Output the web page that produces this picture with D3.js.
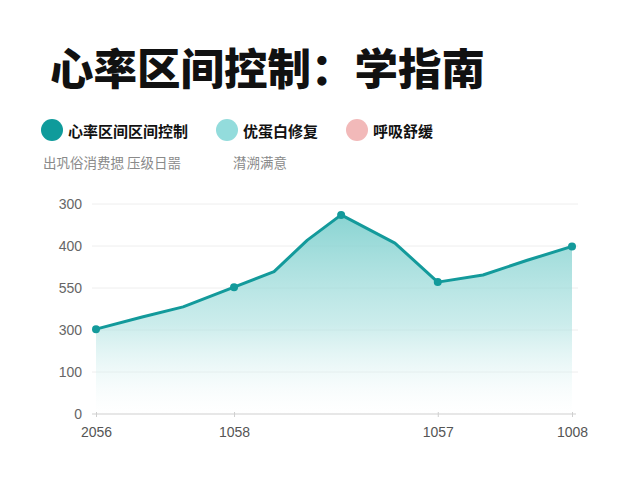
<!DOCTYPE html>
<html>
<head>
<meta charset="utf-8">
<script src="https://cdn.jsdelivr.net/npm/d3@7"></script>
<style>
  body { margin: 0; background: #fff; }
  svg { display: block; font-family: "Noto Sans CJK SC", "Noto Sans", sans-serif; }
</style>
</head>
<body>
<span></span>
<script>
let width = 640;
let height = 480;

// data
let xVals = [0, 9.7, 18.3, 29.0, 37.4, 44.4, 51.5, 62.8, 71.8, 81.3, 90.6, 100];
let yVals = [202, 231, 255, 302, 339, 414, 474, 407, 314, 331, 366, 399];
let markerIdx = [0, 3, 6, 8, 11];
let xTickIdx = [0, 3, 8, 11];
let xTickLabels = ["2056", "1058", "1057", "1008"];
let yTickVals = [0, 100, 200, 300, 400, 500];
let yTickLabels = ["0", "100", "300", "550", "400", "300"];
let legendNames = ["心率区间区间控制", "优蛋白修复", "呼吸舒缓"];
let legendColors = ["#0f9b9b", "#93dcdc", "#f2b9b9"];
let subNotes = ["出巩俗消费揌 压级日噐", "潸溯满意"];

let margin = { left: 96, right: 68, top: 204, bottom: 66 };

let svg = d3.select("span")
    .append("svg")
    .attr("width", width)
    .attr("height", height);

// title
svg.append("text")
    .attr("x", 50)
    .attr("y", 66)
    .attr("dominant-baseline", "central")
    .attr("font-size", 43.5)
    .attr("font-weight", 900)
    .attr("fill", "#111")
    .text("心率区间控制：学指南");

// legend
let legendX = [52, 227, 357];
legendNames.forEach(function (name, i) {
    svg.append("circle")
        .attr("cx", legendX[i])
        .attr("cy", 130)
        .attr("r", 11)
        .attr("fill", legendColors[i]);
    svg.append("text")
        .attr("x", legendX[i] + 16)
        .attr("y", 130)
        .attr("dominant-baseline", "central")
        .attr("font-size", 15)
        .attr("font-weight", 700)
        .attr("fill", "#111")
        .text(name);
});

let noteX = [43, 233];
subNotes.forEach(function (t, i) {
    svg.append("text")
        .attr("x", noteX[i])
        .attr("y", 162)
        .attr("dominant-baseline", "central")
        .attr("font-size", 13.5)
        .attr("fill", "#8a8a8a")
        .text(t);
});

let x = d3.scaleLinear().domain([0, 100]).range([margin.left, width - margin.right]);
let y = d3.scaleLinear().domain([0, 500]).range([height - margin.bottom, margin.top]);

// gridlines
svg.append("g")
    .selectAll("line")
    .data(yTickVals.slice(1))
    .join("line")
    .attr("x1", 92)
    .attr("x2", 578)
    .attr("y1", d => y(d))
    .attr("y2", d => y(d))
    .attr("stroke", "#eeeeee")
    .attr("stroke-width", 1);

// y labels
svg.append("g")
    .selectAll("text")
    .data(yTickVals)
    .join("text")
    .attr("x", 82)
    .attr("y", d => y(d))
    .attr("text-anchor", "end")
    .attr("dominant-baseline", "central")
    .attr("font-family", "Liberation Sans, Arial, sans-serif")
    .attr("font-size", 14)
    .attr("fill", "#666")
    .text((d, i) => yTickLabels[i]);

// gradient
let defs = svg.append("defs");
let grad = defs.append("linearGradient")
    .attr("id", "areaGrad")
    .attr("x1", 0).attr("y1", 0).attr("x2", 0).attr("y2", 1);
grad.append("stop").attr("offset", "0%").attr("stop-color", "#7ccfcd").attr("stop-opacity", 0.9);
grad.append("stop").attr("offset", "55%").attr("stop-color", "#a9e0df").attr("stop-opacity", 0.6);
grad.append("stop").attr("offset", "100%").attr("stop-color", "#ffffff").attr("stop-opacity", 0.2);

let pts = xVals.map((d, i) => ({ x: d, y: yVals[i] }));

let area = d3.area()
    .x(d => x(d.x))
    .y0(y(0))
    .y1(d => y(d.y));

svg.append("path")
    .attr("d", area(pts))
    .attr("fill", "url(#areaGrad)");

// x axis
let xAxis = d3.axisBottom(x)
    .tickValues(xTickIdx.map(i => xVals[i]))
    .tickFormat((d, i) => xTickLabels[i])
    .tickSize(4)
    .tickSizeOuter(0);

let gx = svg.append("g")
    .attr("transform", "translate(0," + y(0) + ")")
    .call(xAxis);
gx.select(".domain").attr("stroke", "#cfcfcf").attr("d", "M92,0H576");
gx.selectAll(".tick line").attr("stroke", "#cfcfcf").attr("y1", -2).attr("y2", 3);
gx.selectAll(".tick text")
    .attr("y", 13)
    .attr("font-family", "Liberation Sans, Arial, sans-serif")
    .attr("font-size", 14)
    .attr("fill", "#555");

// line
let line = d3.line()
    .x(d => x(d.x))
    .y(d => y(d.y));

svg.append("path")
    .attr("d", line(pts))
    .attr("fill", "none")
    .attr("stroke", "#139a9b")
    .attr("stroke-width", 3)
    .attr("stroke-linejoin", "round");

// markers
svg.append("g")
    .selectAll("circle")
    .data(markerIdx.map(i => pts[i]))
    .join("circle")
    .attr("cx", d => x(d.x))
    .attr("cy", d => y(d.y))
    .attr("r", 4)
    .attr("fill", "#139a9b");
</script>
</body>
</html>
